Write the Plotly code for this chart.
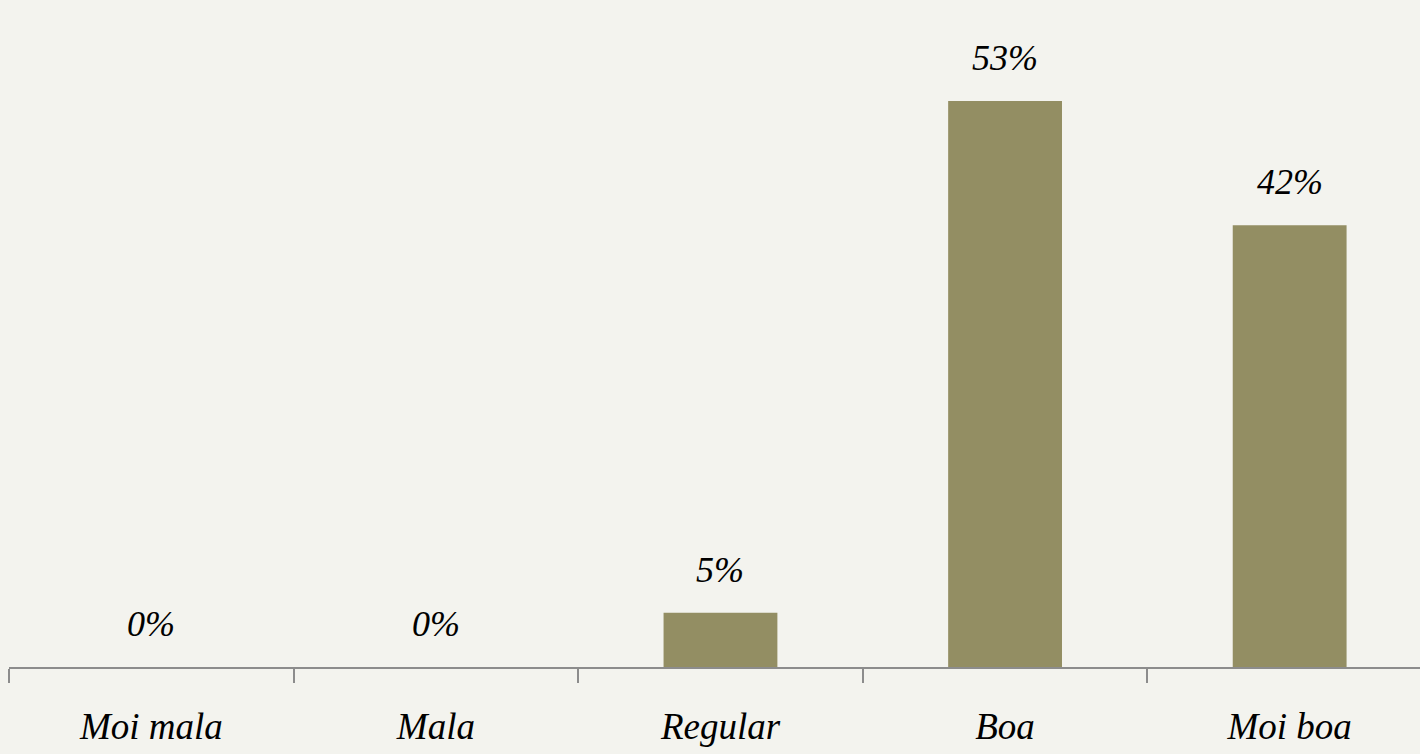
import plotly.graph_objects as go

categories = ["Moi mala", "Mala", "Regular", "Boa", "Moi boa"]
values = [0, 0, 5.1, 53.3, 41.6]
labels = ["0%", "0%", "5%", "53%", "42%"]

bar_color = "#938E63"
bg = "#F3F3EE"
font_family = "Liberation Serif, DejaVu Serif, serif"

fig = go.Figure()
fig.add_trace(go.Bar(x=categories, y=values, marker=dict(color=bar_color, line=dict(width=0)),
                     width=0.4, hoverinfo="skip"))

for c, v, t in zip(categories, values, labels):
    fig.add_annotation(x=c, y=v, text=t, showarrow=False, yanchor="middle", yshift=43,
                       font=dict(family=font_family, size=36, color="black", style="italic"))

fig.update_layout(
    width=1420, height=754,
    paper_bgcolor=bg, plot_bgcolor=bg,
    margin=dict(l=9, r=0, t=0, b=87),
    showlegend=False,
    bargap=0.6,
)
fig.update_xaxes(
    type="category", range=[-0.5, 4.458], tickson="boundaries",
    showline=True, linecolor="#8C8C8C", linewidth=2,
    ticks="outside", ticklen=14, tickwidth=1.5, tickcolor="#8C8C8C",
    showgrid=False, zeroline=False,
    tickfont=dict(family=font_family, size=37, color="black", style="italic"),
    ticklabelstandoff=26,
)
fig.update_yaxes(range=[0, 62.8], visible=False, showgrid=False, zeroline=False)

fig.write_html(
    "out.html",
    config={"displayModeBar": False},
    post_script="document.body.style.margin='0';document.body.style.background='#F3F3EE';",
)
